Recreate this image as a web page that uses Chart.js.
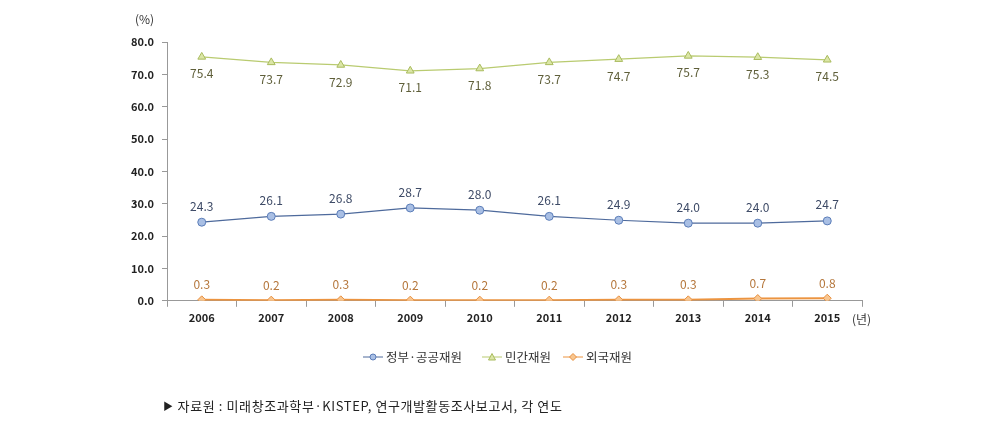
<!DOCTYPE html>
<html>
<head>
<meta charset="utf-8">
<script src="https://cdn.jsdelivr.net/npm/chart.js@4/dist/chart.umd.min.js"></script>
<style>
  html, body { margin: 0; padding: 0; background: #fff; }
  #wrap { position: relative; width: 982px; height: 435px; }
  #chart { position: absolute; left: 0; top: 0; }
  .txt { position: absolute; font-family: "Noto Sans CJK KR", sans-serif; color: #333; white-space: nowrap; }
  #source { left: 163px; top: 396px; font-size: 13px; color: #222; letter-spacing: 0.6px; }
  #source .arrow { font-size: 10px; position: relative; top: -1px; margin-right: 4px; }
  #unitY { left: 135px; top: 10px; font-size: 12px; }
  #unitX { left: 852px; top: 310px; font-size: 12px; }
  .leg { position: absolute; top: 347px; font-family: "Noto Sans CJK KR", sans-serif; font-size: 12.5px;
         color: #333; display: flex; align-items: center; white-space: nowrap; }
  .leg canvas { margin-right: 3px; }
</style>
</head>
<body>
<div id="wrap">
  <canvas id="chart" width="982" height="435"></canvas>
  <div class="txt" id="unitY">(%)</div>
  <div class="txt" id="unitX">(년)</div>
  <div id="legend"></div>
  <div class="txt" id="source"><span class="arrow">▶</span>자료원 : 미래창조과학부·KISTEP, 연구개발활동조사보고서, 각 연도</div>
</div>
<script>
  const years = ['2006', '2007', '2008', '2009', '2010', '2011', '2012', '2013', '2014', '2015'];
  const govValues = [24.3, 26.1, 26.8, 28.7, 28.0, 26.1, 24.9, 24.0, 24.0, 24.7];
  const privateValues = [75.4, 73.7, 72.9, 71.1, 71.8, 73.7, 74.7, 75.7, 75.3, 74.5];
  const foreignValues = [0.3, 0.2, 0.3, 0.2, 0.2, 0.2, 0.3, 0.3, 0.7, 0.8];
  const seriesNames = ['정부·공공재원', '민간재원', '외국재원'];

  const fontFamily = '"Noto Sans CJK KR", sans-serif';

  const lineColors = ['#4e6a9c', '#b9cb70', '#ec9440'];
  const pointFills = ['#a9bfe4', '#dbe6a6', '#f8c690'];
  const pointStrokes = ['#5b7db8', '#a9bb5e', '#e89040'];
  const pointStyles = ['circle', 'triangle', 'rectRot'];
  const labelColors = ['#3d4a66', '#5f5f3a', '#b5773c'];
  const labelOffsets = [-16, 17, -15];
  const legendLefts = [363, 482, 563];

  // small line+marker icon for the html legend
  function legendIcon(i) {
    const c = document.createElement('canvas');
    c.width = 20; c.height = 10;
    const ctx = c.getContext('2d');
    ctx.strokeStyle = lineColors[i];
    ctx.lineWidth = 1;
    ctx.beginPath(); ctx.moveTo(0, 5); ctx.lineTo(20, 5); ctx.stroke();
    ctx.fillStyle = pointFills[i]; ctx.strokeStyle = pointStrokes[i];
    ctx.beginPath();
    if (i === 0) {
      ctx.arc(10, 5, 3, 0, Math.PI * 2);
    } else if (i === 1) {
      ctx.moveTo(10, 1.5); ctx.lineTo(13.5, 8); ctx.lineTo(6.5, 8); ctx.closePath();
    } else {
      ctx.moveTo(10, 1.5); ctx.lineTo(13.5, 5); ctx.lineTo(10, 8.5); ctx.lineTo(6.5, 5); ctx.closePath();
    }
    ctx.fill(); ctx.stroke();
    return c;
  }

  const legendBox = document.getElementById('legend');
  seriesNames.forEach((name, i) => {
    const item = document.createElement('div');
    item.className = 'leg';
    item.style.left = legendLefts[i] + 'px';
    item.append(legendIcon(i));
    const span = document.createElement('span');
    span.textContent = name;
    item.append(span);
    legendBox.append(item);
  });

  const valueLabels = {
    id: 'valueLabels',
    afterDatasetsDraw(chart) {
      const ctx = chart.ctx;
      ctx.save();
      ctx.font = '12px ' + fontFamily;
      ctx.textAlign = 'center';
      ctx.textBaseline = 'middle';
      chart.data.datasets.forEach((ds, i) => {
        const meta = chart.getDatasetMeta(i);
        ctx.fillStyle = labelColors[i];
        meta.data.forEach((pt, j) => {
          ctx.fillText(ds.data[j].toFixed(1), pt.x, pt.y + labelOffsets[i]);
        });
      });
      ctx.restore();
    }
  };

  const allValues = [govValues, privateValues, foreignValues];

  new Chart(document.getElementById('chart'), {
    type: 'line',
    data: {
      labels: years,
      datasets: allValues.map((values, i) => ({
        label: seriesNames[i],
        data: values,
        borderColor: lineColors[i],
        borderWidth: i === 2 ? 2 : 1.2,
        pointStyle: pointStyles[i],
        pointRadius: i === 1 ? 4.5 : 4,
        pointBackgroundColor: pointFills[i],
        pointBorderColor: pointStrokes[i],
        pointBorderWidth: 1
      }))
    },
    options: {
      responsive: false,
      animation: false,
      layout: { padding: { left: 100, right: 120, top: 42, bottom: 107 } },
      plugins: {
        tooltip: { enabled: false },
        legend: { display: false }
      },
      scales: {
        x: {
          offset: true,
          grid: { display: true, drawOnChartArea: false, drawTicks: true, tickLength: 6, offset: true, color: '#999' },
          border: { color: '#999' },
          ticks: { font: { family: fontFamily, size: 11, weight: 'bold' }, color: '#222', padding: 4 }
        },
        y: {
          min: 0, max: 80,
          afterFit(scale) { scale.width = 67; },
          grid: { display: true, drawOnChartArea: false, drawTicks: true, tickLength: 5, color: '#999' },
          border: { color: '#999' },
          ticks: {
            stepSize: 10,
            font: { family: fontFamily, size: 11, weight: 'bold' }, color: '#222', padding: 8,
            callback: v => v.toFixed(1)
          }
        }
      }
    },
    plugins: [valueLabels]
  });
</script>
</body>
</html>
